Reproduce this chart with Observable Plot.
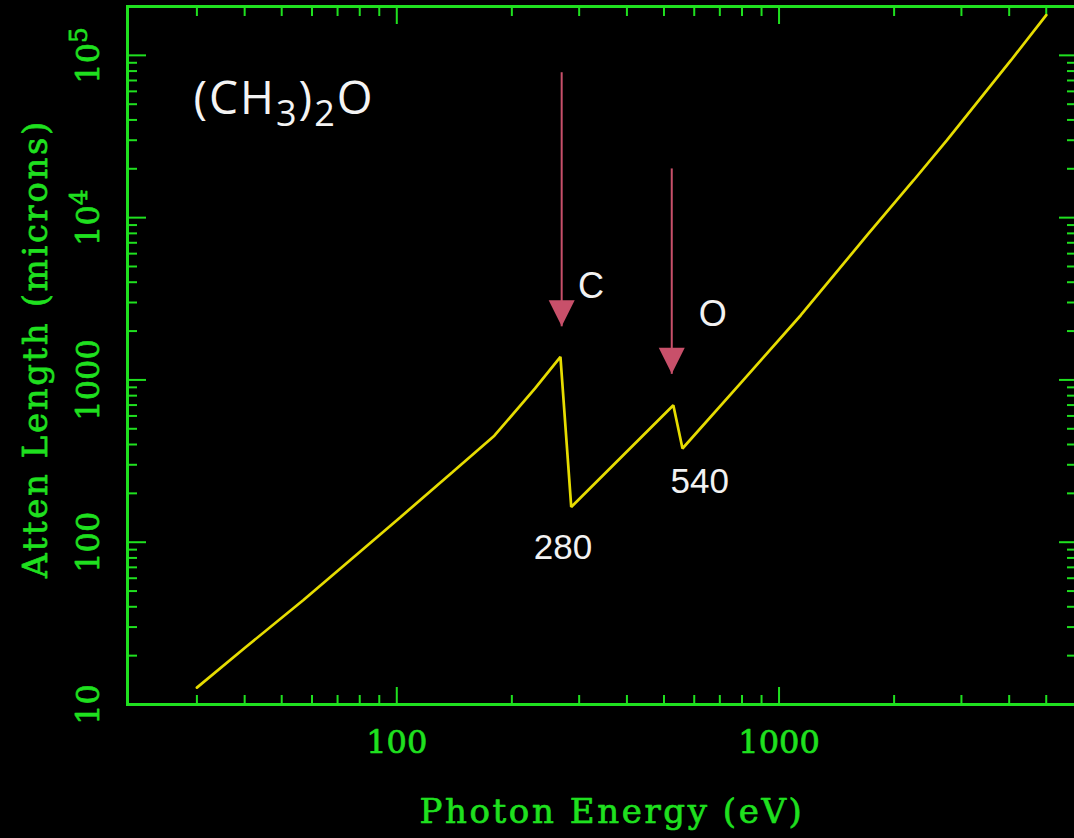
<!DOCTYPE html>
<html>
<head>
<meta charset="utf-8">
<script src="https://cdn.jsdelivr.net/npm/d3@7"></script>
<script src="https://cdn.jsdelivr.net/npm/@observablehq/plot@0.6"></script>
<style>
  html, body { margin: 0; padding: 0; background: #000; overflow: hidden; }
</style>
</head>
<body>
<div id="chart"></div>
<script>
// ---- Data ----
const energy      = [30, 40, 57, 80, 102, 140, 180, 230, 268, 286, 400, 529, 559, 800, 1140, 1700, 2250, 2750, 4040, 5000];
const attenLength = [12.7, 22.3, 44, 87, 142, 271, 453, 887, 1387, 165, 362, 698, 378, 976, 2504, 7800, 17000, 30000, 93000, 177000];

// absorption-edge annotations
const edgeNames   = ["C", "O"];
const arrowEnergy = [270, 524];
const arrowTop    = [78700, 20100];
const arrowTip    = [2140, 1090];
const edgeNameE   = [322, 671];
const edgeNameV   = [3776, 2541];
const edgeValues  = ["280", "540"];
const edgeValueE  = [272, 620];
const edgeValueV  = [93, 235];

// axes
const xMajor       = [100, 1000];
const xMajorLabels = ["100", "1000"];
const xMinor       = [30, 40, 50, 60, 70, 80, 90, 200, 300, 400, 500, 600, 700, 800, 900, 2000, 3000, 4000, 5000];
const yMajor       = [10, 100, 1000, 10000, 100000];
const yMajorLabels = ["10", "100", "1000", "10^4", "10^5"];
const yMinor       = [20, 30, 40, 50, 60, 70, 80, 90,
                      200, 300, 400, 500, 600, 700, 800, 900,
                      2000, 3000, 4000, 5000, 6000, 7000, 8000, 9000,
                      20000, 30000, 40000, 50000, 60000, 70000, 80000, 90000];
const titleText  = "(CH3)2O";
const xLabelText = "Photon Energy (eV)";
const yLabelText = "Atten Length (microns)";

// ---- Layout / style ----
const W = 1074, H = 838;
const mL = 127, mR = -2, mT = 6, mB = 134;
const fw = W - mL - mR, fh = H - mT - mB;
const green = "#1fe01f";
const yellow = "#e6dc00";
const red = "#c8506a";
const serif = "DejaVu Serif";

const series = energy.map((e, i) => ({energy: e, atten: attenLength[i]}));
const arrows = edgeNames.map((n, i) => ({e: arrowEnergy[i], top: arrowTop[i], tip: arrowTip[i]}));
const names  = edgeNames.map((n, i) => ({n, e: edgeNameE[i], v: edgeNameV[i]}));
const values = edgeValues.map((n, i) => ({n, e: edgeValueE[i], v: edgeValueV[i]}));

// filled downward triangle whose tip sits at the anchor point
const arrowHead = {
  draw(ctx) { ctx.moveTo(0, 0); ctx.lineTo(-13, -26); ctx.lineTo(13, -26); ctx.closePath(); }
};

const tick = {stroke: green, strokeWidth: 2};
const greenText = {fill: green, stroke: green, strokeWidth: 0.7, fontFamily: serif};

const chart = Plot.plot({
  width: W, height: H,
  marginLeft: mL, marginRight: mR, marginTop: mT, marginBottom: mB,
  style: {background: "#000", overflow: "hidden"},
  x: {type: "log", domain: [19.75, 6000], axis: null},
  y: {type: "log", domain: [10, 2e5], axis: null},
  marks: [
    // ticks, inward on all four sides
    Plot.ruleX(xMajor, {x: d => d, ...tick, insetTop: fh - 17}),
    Plot.ruleX(xMinor, {x: d => d, ...tick, insetTop: fh - 9}),
    Plot.ruleX(xMajor, {x: d => d, ...tick, insetBottom: fh - 18}),
    Plot.ruleX(xMinor, {x: d => d, ...tick, insetBottom: fh - 10}),
    Plot.ruleY(yMajor, {y: d => d, ...tick, insetRight: fw - 19}),
    Plot.ruleY(yMinor, {y: d => d, ...tick, insetRight: fw - 10}),
    Plot.ruleY(yMajor, {y: d => d, ...tick, insetLeft: fw - 17}),
    Plot.ruleY(yMinor, {y: d => d, ...tick, insetLeft: fw - 9}),
    Plot.frame({stroke: green, strokeWidth: 3}),

    // tick labels
    Plot.text(xMajor, {x: d => d, text: (d, i) => xMajorLabels[i], frameAnchor: "bottom", dy: 38,
      lineAnchor: "middle", textAnchor: "middle", fontSize: 32, ...greenText}),
    Plot.text(yMajor, {y: d => d, text: (d, i) => yMajorLabels[i], frameAnchor: "left", dx: -39,
      rotate: -90, lineAnchor: "middle", textAnchor: "middle", fontSize: 32, ...greenText}),

    // axis titles
    Plot.text([xLabelText], {text: d => d, frameAnchor: "bottom", dx: 10, dy: 108,
      lineAnchor: "middle", textAnchor: "middle", fontSize: 34, ...greenText}),
    Plot.text([yLabelText], {text: d => d, frameAnchor: "left", dx: -91, dy: -7, rotate: -90,
      lineAnchor: "middle", textAnchor: "middle", fontSize: 34, ...greenText}),

    // data curve
    Plot.line(series, {x: "energy", y: "atten", stroke: yellow, strokeWidth: 2.7, strokeLinejoin: "miter"}),

    // edge arrows
    Plot.link(arrows, {x1: "e", x2: "e", y1: "top", y2: "tip", stroke: red, strokeWidth: 2}),
    Plot.dot(arrows, {x: "e", y: "tip", symbol: arrowHead, fill: red, stroke: "none"}),

    // annotations
    Plot.text(names, {x: "e", y: "v", text: "n", lineAnchor: "middle", textAnchor: "middle", fill: "#f2f2f2",
      fontSize: 36, fontFamily: "Liberation Sans"}),
    Plot.text(values, {x: "e", y: "v", text: "n", lineAnchor: "middle", textAnchor: "middle", fill: "#f2f2f2",
      fontSize: 35, fontFamily: "Liberation Sans"}),

    // compound title
    Plot.text([titleText], {text: d => d, frameAnchor: "top-left", dx: 66, dy: 107,
      textAnchor: "start", lineAnchor: "bottom", fill: "#f4f4f4", fontSize: 46, fontFamily: "Open Sans"})
  ]
});

// post-processing: letter spacing, subscripts and superscripts as tspans
const NS = "http://www.w3.org/2000/svg";
function rebuild(t, parts) {
  t.textContent = "";
  for (const [str, size, shift] of parts) {
    const ts = document.createElementNS(NS, "tspan");
    ts.textContent = str;
    if (size) ts.setAttribute("font-size", size);
    if (shift) ts.setAttribute("dy", shift);
    t.appendChild(ts);
  }
}
chart.querySelectorAll("text").forEach(t => {
  const s = t.textContent;
  if (s === xLabelText || s === yLabelText) t.setAttribute("letter-spacing", "2.6");
  if (s === titleText) {
    t.setAttribute("letter-spacing", "2");
    rebuild(t, [["(CH"], ["3", 36, 12], [")", null, -12], ["2", 36, 12], ["O", null, -12]]);
  }
  const m = /^10\^(\d)$/.exec(s);
  if (m) rebuild(t, [["10"], [m[1], 25, -12]]);
});

document.getElementById("chart").appendChild(chart);
</script>
</body>
</html>
